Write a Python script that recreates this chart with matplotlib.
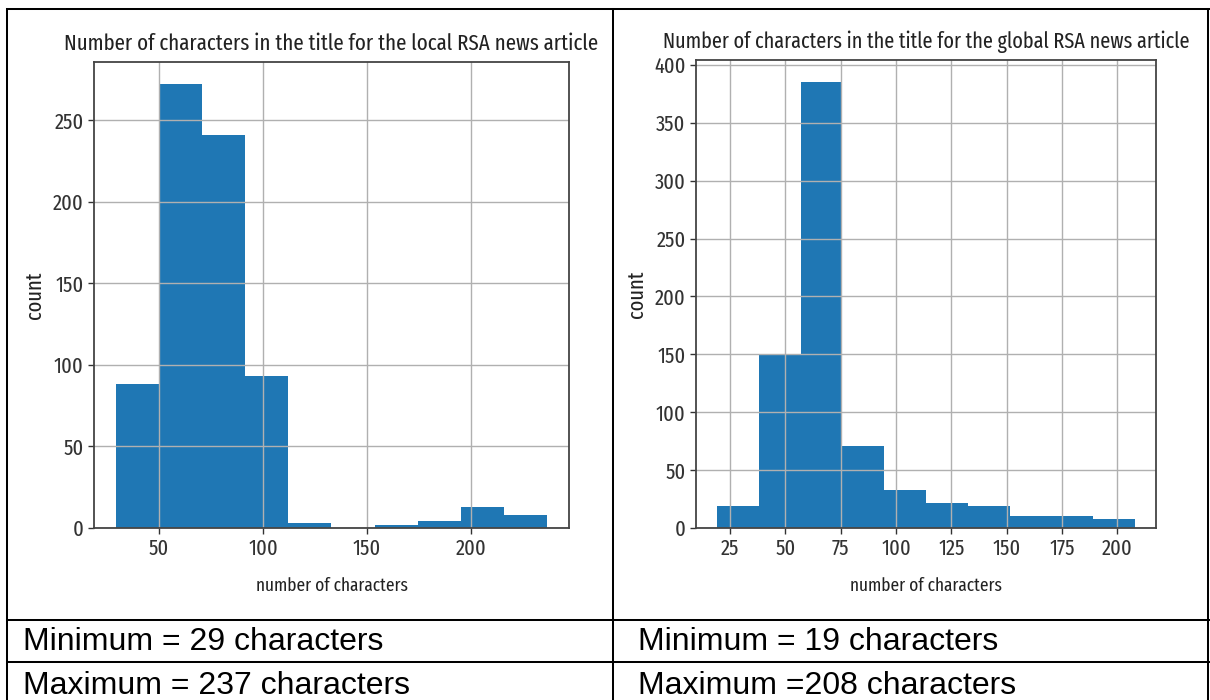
import numpy as np
import matplotlib.pyplot as plt
from matplotlib.lines import Line2D

W, H = 1210, 700

# title length histograms, 10 equal-width bins between min and max
local_min, local_max = 29, 237
local_counts = [88, 272, 241, 93, 3, 0, 2, 4, 13, 8]
global_min, global_max = 19, 208
global_counts = [19, 150, 385, 71, 33, 22, 19, 10, 10, 8]

local_xticks = [50, 100, 150, 200]
local_yticks = [0, 50, 100, 150, 200, 250]
global_xticks = [25, 50, 75, 100, 125, 150, 175, 200]
global_yticks = [0, 50, 100, 150, 200, 250, 300, 350, 400]

chart_font = ['Fira Sans Extra Condensed', 'Roboto Condensed', 'DejaVu Sans']
table_font = ['Liberation Sans', 'Arimo', 'DejaVu Sans']

plt.rcParams['font.family'] = chart_font
plt.rcParams['text.color'] = '#222222'
plt.rcParams['axes.labelcolor'] = '#222222'
plt.rcParams['xtick.color'] = '#333333'
plt.rcParams['ytick.color'] = '#333333'

fig = plt.figure(figsize=(W / 100, H / 100), dpi=100)


def px_box(x0, y0, x1, y1):
    # pixel box (top-left origin) -> figure fraction rect
    return [x0 / W, 1 - y1 / H, (x1 - x0) / W, (y1 - y0) / H]


def fit_width(txt, target_px):
    r = fig.canvas.get_renderer()
    w = txt.get_window_extent(r).width
    txt.set_fontsize(txt.get_fontsize() * target_px / w)


def draw_hist(ax, lo, hi, counts, xticks, yticks, title):
    edges = np.linspace(lo, hi, len(counts) + 1)
    ax.hist(edges[:-1], bins=edges, weights=counts, color='#1f77b4')
    ax.set_xticks(xticks)
    ax.set_yticks(yticks)
    ax.grid(True, color='#b0b0b0', lw=1.0)
    for s in ax.spines.values():
        s.set_color('#444444')
        s.set_linewidth(1.3)
    ax.tick_params(labelsize=16, width=1.0, length=4)
    t = ax.set_title(title, fontsize=16, pad=8.5)
    xl = ax.set_xlabel('number of characters', fontsize=14, labelpad=12)
    ax.set_ylabel('count', fontsize=16, labelpad=5)
    return t, xl


ax_l = fig.add_axes(px_box(94, 62, 569, 528))
ax_r = fig.add_axes(px_box(696, 60, 1156, 528))

t_l, xl_l = draw_hist(ax_l, local_min, local_max, local_counts, local_xticks, local_yticks,
                      'Number of characters in the title for the local RSA news article')
t_r, xl_r = draw_hist(ax_r, global_min, global_max, global_counts, global_xticks, global_yticks,
                      'Number of characters in the title for the global RSA news article')

fit_width(t_l, 536)
fit_width(t_r, 529)
fit_width(xl_l, 152)
fit_width(xl_r, 152)

# table grid around the two charts
def hline(y, x0=7, x1=1209):
    fig.add_artist(Line2D([x0 / W, x1 / W], [1 - y / H, 1 - y / H],
                          transform=fig.transFigure, color='black', lw=1.45))


def vline(x, y0=9, y1=700):
    fig.add_artist(Line2D([x / W, x / W], [1 - y0 / H, 1 - y1 / H],
                          transform=fig.transFigure, color='black', lw=1.45))


hline(9)
hline(620)
hline(662)
vline(7)
vline(613)
vline(1208)

rows = [
    (23, 650, f'Minimum = {local_min} characters'),
    (23, 694, f'Maximum = {local_max} characters'),
    (638, 650, f'Minimum = {global_min} characters'),
    (638, 694, f'Maximum ={global_max} characters'),
]
for x, y, s in rows:
    fig.text(x / W, 1 - y / H, s, va='baseline', ha='left', fontsize=23,
             family=table_font, color='black')

fig.savefig('out.png', dpi=100)
